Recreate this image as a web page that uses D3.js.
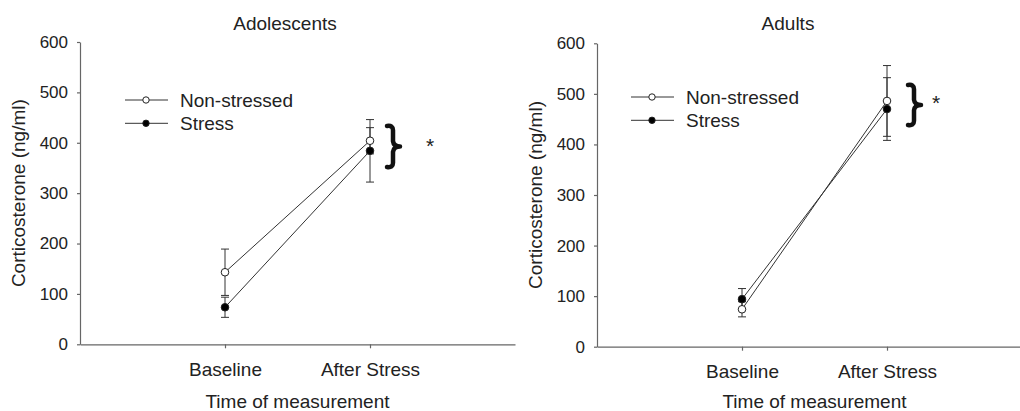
<!DOCTYPE html>
<html>
<head>
<meta charset="utf-8">
<script src="https://cdn.jsdelivr.net/npm/d3@7"></script>
<style>
    body { margin: 0; background: #fff; }
    svg { font-family: "Liberation Sans", Arial, sans-serif; }
    .axis path, .axis line { stroke: #666; stroke-width: 1.2; }
    .axis text { fill: #222; }
</style>
</head>
<body>
<script>
    // data
    var categories = ["Baseline", "After Stress"];
    var yTicks = [0, 100, 200, 300, 400, 500, 600];
    var seriesNames = ["Non-stressed", "Stress"];

    var adolNonStressed = [143, 404];
    var adolNonStressedErr = [46, 26];
    var adolStress = [73.5, 384];
    var adolStressErr = [20, 62];

    var adultNonStressed = [74, 486];
    var adultNonStressedErr = [15, 70];
    var adultStress = [94, 470];
    var adultStressErr = [21, 62];

    var width = 1020, height = 411;
    var svg = d3.select('body').append('svg')
        .attr('width', width)
        .attr('height', height);

    var panels = [
        { title: "Adolescents", titleX: 285,
          x0: 80, x1: 515, yTop: 42, yBot: 344.3, yLabelX: 25,
          legX: 125, legY: 100,
          brace: [386, 124, 14, 45], star: [430, 153],
          series: [
            { vals: adolNonStressed, err: adolNonStressedErr, fill: '#fff' },
            { vals: adolStress, err: adolStressErr, fill: '#000' } ] },
        { title: "Adults", titleX: 788,
          x0: 597, x1: 1032, yTop: 43.3, yBot: 346.7, yLabelX: 542,
          legX: 631, legY: 97,
          brace: [907, 83, 14, 44], star: [936, 110],
          series: [
            { vals: adultNonStressed, err: adultNonStressedErr, fill: '#fff' },
            { vals: adultStress, err: adultStressErr, fill: '#000' } ] }
    ];

    panels.forEach(drawPanel);

    function drawPanel(p) {
        var g = svg.append('g');

        var x = d3.scalePoint().domain(categories).range([p.x0, p.x1]).padding(1);
        var y = d3.scaleLinear().domain([0, 600]).range([p.yBot, p.yTop]);

        g.append('g').attr('class', 'axis')
            .attr('transform', 'translate(0,' + p.yBot + ')')
            .call(d3.axisBottom(x).tickSize(4).tickPadding(14).tickSizeOuter(0))
            .call(function(a) { a.selectAll('text').style('font-size', '19px'); });

        g.append('g').attr('class', 'axis')
            .attr('transform', 'translate(' + p.x0 + ',0)')
            .call(d3.axisLeft(y).tickValues(yTicks).tickSize(3).tickPadding(9).tickSizeOuter(0))
            .call(function(a) { a.selectAll('text').style('font-size', '17px'); });
        g.selectAll('.axis .domain').attr('fill', 'none');

        // titles
        g.append('text').attr('x', p.titleX).attr('y', 30)
            .attr('text-anchor', 'middle').style('font-size', '19px').attr('fill', '#222')
            .text(p.title);
        g.append('text').attr('x', (p.x0 + p.x1) / 2).attr('y', 408)
            .attr('text-anchor', 'middle').style('font-size', '19px').attr('fill', '#222')
            .text("Time of measurement");
        g.append('text')
            .attr('transform', 'translate(' + p.yLabelX + ',' + (p.yTop + p.yBot) / 2 + ') rotate(-90)')
            .attr('text-anchor', 'middle').style('font-size', '19px').attr('fill', '#222')
            .text("Corticosterone (ng/ml)");

        var line = d3.line()
            .x(function(d, i) { return x(categories[i]); })
            .y(function(d) { return y(d); });

        p.series.forEach(function(s) {
            g.append('path').datum(s.vals)
                .attr('d', line)
                .attr('fill', 'none').attr('stroke', '#333').attr('stroke-width', 1);

            var eb = g.append('g').selectAll('g').data(s.vals).enter().append('g')
                .attr('stroke', '#333').attr('stroke-width', 1);
            eb.append('line')
                .attr('x1', function(d, i) { return x(categories[i]); })
                .attr('x2', function(d, i) { return x(categories[i]); })
                .attr('y1', function(d, i) { return y(d + s.err[i]); })
                .attr('y2', function(d, i) { return y(d - s.err[i]); });
            [1, -1].forEach(function(sign) {
                eb.append('line')
                    .attr('x1', function(d, i) { return x(categories[i]) - 4; })
                    .attr('x2', function(d, i) { return x(categories[i]) + 4; })
                    .attr('y1', function(d, i) { return y(d + sign * s.err[i]); })
                    .attr('y2', function(d, i) { return y(d + sign * s.err[i]); });
            });
        });

        p.series.forEach(function(s) {
            g.append('g').selectAll('circle').data(s.vals).enter().append('circle')
                .attr('cx', function(d, i) { return x(categories[i]); })
                .attr('cy', function(d) { return y(d); })
                .attr('r', 3.8)
                .attr('fill', s.fill).attr('stroke', '#222').attr('stroke-width', 1);
        });

        // legend
        var leg = g.append('g').selectAll('g').data(seriesNames).enter().append('g')
            .attr('transform', function(d, i) { return 'translate(' + p.legX + ',' + (p.legY + i * 23.3) + ')'; });
        leg.append('line').attr('x1', 0).attr('x2', 43).attr('y1', 0).attr('y2', 0)
            .attr('stroke', '#333').attr('stroke-width', 1);
        leg.append('circle').attr('cx', 21).attr('cy', 0).attr('r', 3.2)
            .attr('fill', function(d, i) { return p.series[i].fill; })
            .attr('stroke', '#222').attr('stroke-width', 1);
        leg.append('text').attr('x', 55).attr('y', 0).attr('dy', '0.35em')
            .style('font-size', '19px').attr('fill', '#222')
            .text(function(d) { return d; });

        // significance brace and asterisk
        var bx = p.brace[0], by = p.brace[1], bw = p.brace[2], bh = p.brace[3];
        var bp = d3.path();
        bp.moveTo(bx + 1, by + 2);
        bp.quadraticCurveTo(bx + bw * 0.5, by + 1, bx + bw * 0.5, by + bh * 0.14);
        bp.lineTo(bx + bw * 0.5, by + bh * 0.38);
        bp.quadraticCurveTo(bx + bw * 0.55, by + bh * 0.5, bx + bw, by + bh * 0.5);
        bp.quadraticCurveTo(bx + bw * 0.55, by + bh * 0.5, bx + bw * 0.5, by + bh * 0.62);
        bp.lineTo(bx + bw * 0.5, by + bh * 0.86);
        bp.quadraticCurveTo(bx + bw * 0.5, by + bh - 1, bx + 1, by + bh - 2);
        g.append('path').attr('d', bp.toString())
            .attr('fill', 'none').attr('stroke', '#111').attr('stroke-width', 4.5)
            .attr('stroke-linecap', 'round').attr('stroke-linejoin', 'round');
        g.append('text').attr('x', p.star[0]).attr('y', p.star[1])
            .attr('text-anchor', 'middle').style('font-size', '21px').attr('fill', '#222')
            .text('*');
    }
</script>
</body>
</html>
